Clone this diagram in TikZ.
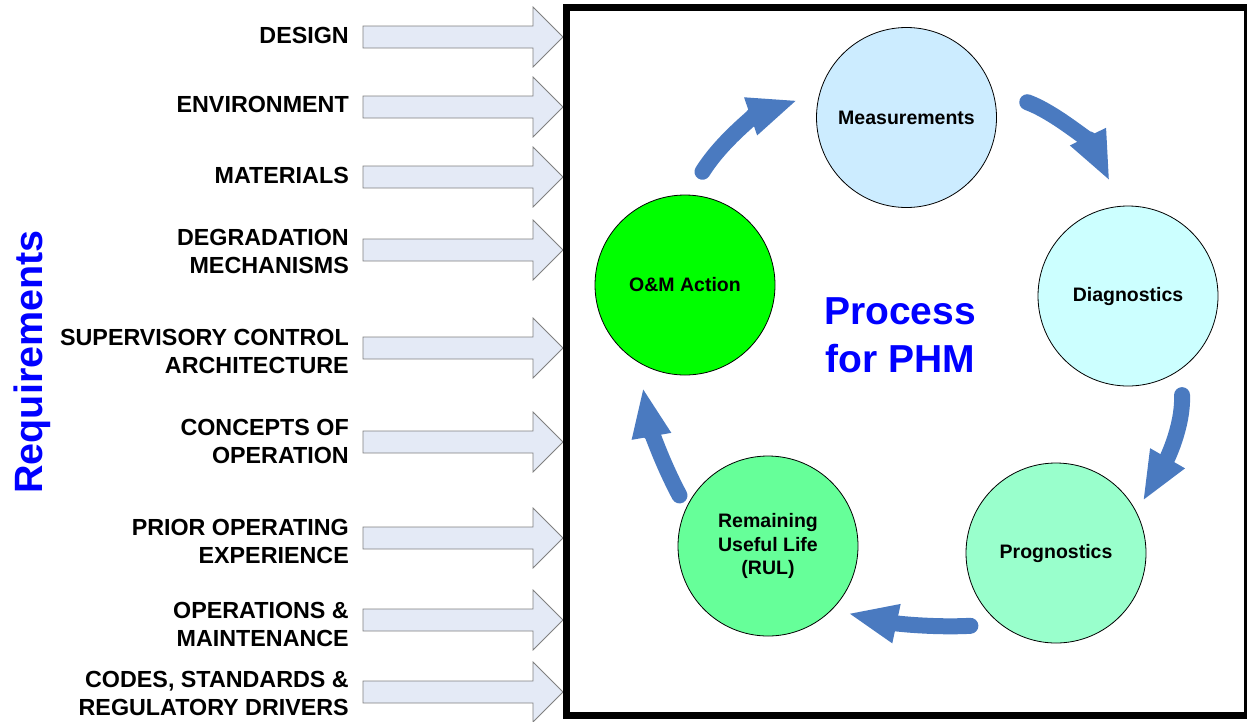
\documentclass[tikz,border=0pt]{standalone}
\usepackage{fontspec}
\setmainfont{Liberation Sans}
\usetikzlibrary{arrows.meta}

\definecolor{cycblue}{RGB}{74,122,192}
\definecolor{reqfill}{RGB}{228,234,246}
\definecolor{measfill}{RGB}{204,236,255}
\definecolor{diagfill}{RGB}{204,255,255}
\definecolor{progfill}{RGB}{153,255,204}
\definecolor{rulfill}{RGB}{102,255,153}
\definecolor{omfill}{RGB}{0,255,0}

\begin{document}
\begin{tikzpicture}[x=1pt, y=-1pt,
  phase/.style={draw, circle, line width=0.8pt, minimum size=180pt, inner sep=0pt, align=center, font=\bfseries\fontsize{19.5}{23.5}\selectfont},
  req/.style={anchor=east, align=right, inner sep=0pt, font=\bfseries\fontsize{23.3}{28}\selectfont},
  cyc/.style={draw=cycblue, line width=16pt, line cap=round, -{Triangle[length=50pt, width=36pt]}}]
\useasboundingbox (0,0) rectangle (1247,721);

% Requirements (left)
\node[rotate=90, text=blue, inner sep=0pt, font=\bfseries\fontsize{39.5}{46}\selectfont] (reqs) at (32,362) {Requirements};
\foreach \y/\ly/\txt in {37/35/DESIGN, 107/104/ENVIRONMENT, 177/175/MATERIALS, 250/251/{DEGRADATION\\MECHANISMS},
    348/351/{SUPERVISORY CONTROL\\ARCHITECTURE}, 442/441/{CONCEPTS OF\\OPERATION}, 538/541/{PRIOR OPERATING\\EXPERIENCE},
    620/624/{OPERATIONS \&\\MAINTENANCE}, 692/693/{CODES, STANDARDS \&\\REGULATORY DRIVERS}} {
  \node[req] (req\y) at (349,\ly) {\txt};
  \draw[gray, line width=0.8pt, fill=reqfill] (363,\y-11) -- (533,\y-11) -- (533,\y-30) -- (563,\y)
    -- (533,\y+30) -- (533,\y+11) -- (363,\y+11) -- cycle;
}

% Process box (right)
\draw[line width=7pt] (566,7.5) rectangle (1247.5,715);
\node[text=blue, align=center, inner sep=0pt, font=\bfseries\fontsize{39}{48}\selectfont] (title) at (900,335) {Process\\for PHM};

\node[phase, fill=measfill] (meas) at (906.5,117.5) {Measurements};
\node[phase, fill=diagfill] (diag) at (1128,296) {Diagnostics};
\node[phase, fill=progfill] (prog) at (1056,553) {Prognostics};
\node[phase, fill=rulfill] (rul) at (768,546) {Remaining\\Useful Life\\(RUL)};
\node[phase, fill=omfill] (om) at (685,285) {O\&M Action};

% Cycle arrows
\draw[cyc, shorten <=27pt, shorten >=23pt] (om.88) to[out=58, in=199] (meas.164);
\draw[cyc, shorten <=37pt, shorten >=27pt] (meas.18) to[out=-20, in=116] (diag.94);
\draw[cyc, shorten <=26pt, shorten >=12pt] (diag.-54) to[out=-88, in=60] (prog.27);
\draw[cyc, shorten <=30pt, shorten >=16pt] (prog.232) to[out=183, in=-12] (rul.-45);
\draw[cyc, shorten <=14pt, shorten >=25pt] (rul.155) to[out=118, in=-80] (om.239);
\end{tikzpicture}
\end{document}
